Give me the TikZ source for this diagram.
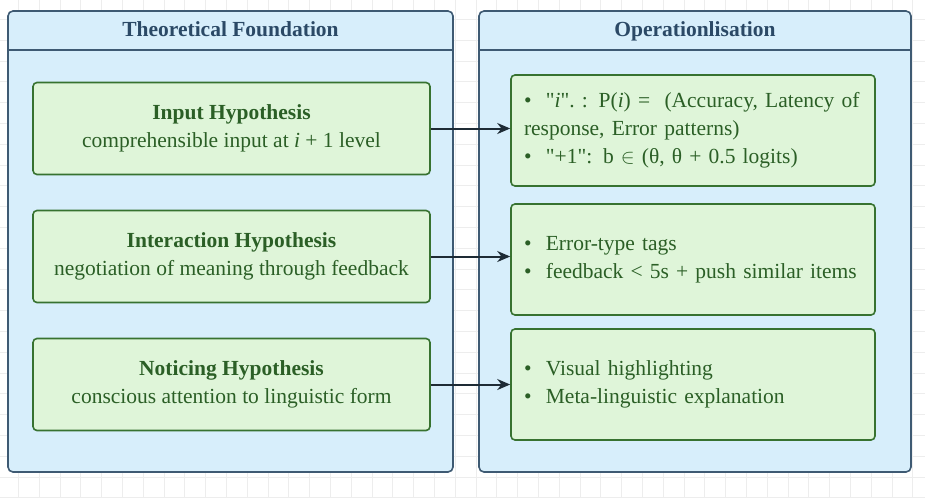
\documentclass[tikz,border=0pt]{standalone}
\usepackage{fontspec}
\setmainfont{Liberation Serif}[Ligatures=TeXOff]
\usetikzlibrary{arrows.meta}
\definecolor{PanelBlue}{HTML}{D7EEFB}
\definecolor{PanelEdge}{HTML}{3E5A73}
\definecolor{TitleBlue}{HTML}{2B4966}
\definecolor{CardGreen}{HTML}{DFF5D9}
\definecolor{CardEdge}{HTML}{377230}
\definecolor{CardText}{HTML}{2B5F26}
\definecolor{GridGray}{HTML}{EDEDED}
\definecolor{ArrowDark}{HTML}{1E2B35}

\begin{document}
\begin{tikzpicture}[x=1pt, y=1pt, node distance=128pt, every node/.style={font=\fontsize{21.5}{28}\selectfont}]
  \tikzstyle{panel}=[rectangle, rounded corners=5pt, draw=PanelEdge, line width=1.6pt, fill=PanelBlue,
  minimum height=461pt, inner sep=0pt]
  \tikzstyle{title}=[text=TitleBlue, font=\fontsize{21.5}{26}\selectfont\bfseries, text height=15pt, text depth=5pt]
  \tikzstyle{card}=[rectangle, rounded corners=4pt, draw=CardEdge, line width=1.6pt, fill=CardGreen,
  text=CardText, minimum width=397pt, minimum height=92pt, align=center]
  \tikzstyle{opcard}=[rectangle, rounded corners=4pt, draw=CardEdge, line width=1.6pt, fill=CardGreen,
  text=CardText, minimum width=364pt, minimum height=111pt, text width=338pt, inner xsep=13pt, align=left]
  \tikzstyle{arrow}=[-{Stealth[length=13pt, width=11pt]}, line width=2pt, color=ArrowDark]
  % page and grid
  \clip (0,0) rectangle (925,-498);
  \fill[white] (0,0) rectangle (925,-498);
  \foreach \gx in {0,...,45} \draw[GridGray, line width=0.8pt] ({-2.5+\gx*20.8},0) -- ({-2.5+\gx*20.8},-498);
  \foreach \gy in {0,...,24} \draw[GridGray, line width=0.8pt] (0,{-(-1.5+\gy*20.8)}) -- (925,{-(-1.5+\gy*20.8)});
  % panels
  \node[panel, minimum width=445pt] (theory) at (230.5,-241.5) {};
  \node[panel, minimum width=432pt] (oper) at (695,-241.5) {};
  \draw[PanelEdge, line width=1.6pt] ([yshift=-40pt]theory.north west) -- ([yshift=-40pt]theory.north east);
  \draw[PanelEdge, line width=1.6pt] ([yshift=-40pt]oper.north west) -- ([yshift=-40pt]oper.north east);
  \node[title] (thtitle) at ([yshift=-21pt]theory.north) {Theoretical Foundation};
  \node[title] (optitle) at ([yshift=-21pt]oper.north) {Operationlisation};
  % hypotheses
  \node[card] (input) at (231.5,-128.5) {\textbf{Input Hypothesis}\\comprehensible input at \textit{i} + 1 level};
  \node[card, below of=input] (interact) {\textbf{Interaction Hypothesis}\\negotiation of meaning through feedback};
  \node[card, below of=interact] (notice) {\textbf{Noticing Hypothesis}\\conscious attention to linguistic form};
  % operationalisation
  \node[opcard] (opinput) at (693,-130.5) {\textbullet\ \ "\textit{i}".\ : P(\textit{i}) =\ \ (Accuracy,\ Latency of\\response, Error patterns)\\\textbullet\ \ "+1": b $\in$ (θ, θ + 0.5 logits)};
  \node[opcard, below of=opinput, yshift=-1pt] (opinteract) {\textbullet\ \ Error-type tags\\\textbullet\ \ feedback < 5s + push similar items};
  \node[opcard, below of=opinteract, yshift=3pt] (opnotice) {\textbullet\ \ Visual highlighting\\\textbullet\ \ Meta-linguistic explanation};
  \draw[arrow] (input.east) -- (input.east -| opinput.west);
  \draw[arrow] (interact.east) -- (interact.east -| opinteract.west);
  \draw[arrow] (notice.east) -- (notice.east -| opnotice.west);
\end{tikzpicture}
\end{document}
